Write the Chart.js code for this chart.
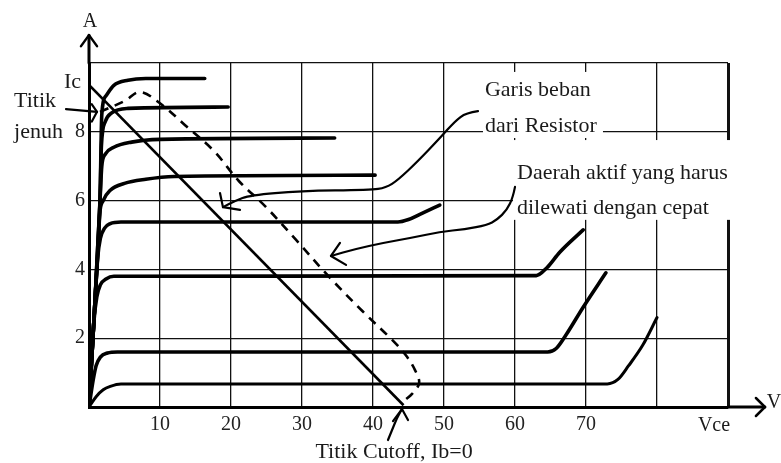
<!DOCTYPE html>
<html lang="id">
<head>
<meta charset="UTF-8">
<title>Kurva karakteristik transistor</title>
<script src="https://cdn.jsdelivr.net/npm/chart.js@4.4.0/dist/chart.umd.min.js"></script>
<style>
  body { margin: 0; background: #fff; }
  .wrap { width: 781px; height: 463px; position: relative; }
</style>
</head>
<body>
<div class="wrap"><canvas id="ic"></canvas></div>
<script>
// kurva Ic terhadap Vce, satu kurva tiap arus basis (x = Vce, y = Ic)
const ib1 = [[0,0],[1,0.3],[2,0.5],[3,0.6],[4.5,0.67],[73,0.67],[74.5,0.8],[76,1.2],[78,1.8],[80,2.6]];
const ib2 = [[0,0],[0.6,0.8],[1,1.2],[1.6,1.45],[2.6,1.57],[4,1.6],[64.6,1.6],[65.8,1.7],[67.2,2.1],[69.6,2.9],[72.8,3.9]];
const ib3 = [[0,0],[0.7,2.5],[1.1,3.2],[1.6,3.55],[2.4,3.72],[3.5,3.8],[63,3.82],[64.5,4.05],[66.3,4.5],[69.6,5.15]];
const ib4 = [[0,0],[0.85,3.1],[1.2,4.3],[1.6,4.9],[2.2,5.2],[3,5.33],[4.5,5.38],[43.5,5.38],[45,5.45],[46.6,5.6],[49.4,5.87]];
const ib5 = [[0,0],[0.85,3.1],[1.5,5.6],[2,6.0],[3,6.3],[5,6.5],[8,6.62],[12,6.7],[40.3,6.74]];
const ib6 = [[0,0],[0.85,3.1],[1.55,6.0],[1.8,7.0],[2.3,7.35],[3.5,7.55],[6,7.7],[10,7.78],[34.6,7.82]];
const ib7 = [[0,0],[0.85,3.1],[1.55,6.0],[1.75,7.6],[2.3,8.3],[3.2,8.55],[5.5,8.68],[19.6,8.72]];
const ib8 = [[0,0],[0.85,3.1],[1.55,6.0],[1.8,8.5],[2.4,9.05],[3.5,9.35],[5.5,9.5],[8,9.55],[16.3,9.55]];
const curves = [ib1, ib2, ib3, ib4, ib5, ib6, ib7, ib8];

// garis beban resistor, dari titik jenuh ke titik cutoff
const loadLine = [[0,9.36],[44.3,0.05]];

// daerah aktif (garis putus-putus)
const activeZone = [[1.55,8.58],[5.07,8.9],[7.18,9.16],[10,8.83],[13.5,8.2],[17.6,7.44],[21.1,6.57],[24.8,5.84],
  [29.2,4.85],[33.7,3.81],[38.5,2.79],[42.7,1.95],[44.6,1.51],[45.9,1.08],[46.5,0.7],[45.5,0.38],[44.5,0.2]];

const xTicks = [10, 20, 30, 40, 50, 60, 70];
const yTicks = [2, 4, 6, 8];

// panah keterangan (dalam satuan sumbu)
const arrows = [
  { path: [[54.79,8.6],[53.1,8.55],[51.55,8.31],[49.44,7.82],[46.2,7.12],[43.52,6.6],[41.83,6.37],[39.58,6.31],[29.72,6.28],[22.68,6.16],[20.56,5.99],[18.87,5.81]],
    head: [[18.45,6.22],[18.87,5.81],[21.27,5.73]] },
  { path: [[60,6.4],[59.72,6.1],[58.87,5.73],[57.46,5.44],[56.06,5.29],[52.96,5.17],[49.44,5.09],[45.21,4.91],[41.41,4.77],[37.46,4.59],[34.08,4.39]],
    head: [[35.35,4.77],[34.08,4.39],[36.2,4.13]] },
  { path: [[-3.24,8.66],[1.13,8.58]], head: [[0.4,8.8],[1.13,8.58],[0.4,8.3]] },
  { path: [[42.11,-0.96],[42.68,-0.67],[43.38,-0.32],[44.08,-0.06]], head: [[42.82,-0.41],[44.08,-0.06],[44.93,-0.38]] }
];

const notes = [
  { text: 'Garis beban', at: [55.77,9.22] },
  { text: 'dari Resistor', at: [55.77,8.17] },
  { text: 'Daerah aktif yang harus', at: [60.28,6.8] },
  { text: 'dilewati dengan cepat', at: [60.28,5.78] },
  { text: 'Titik', at: [-10.56,8.9] },
  { text: 'jenuh', at: [-10.56,7.99] },
  { text: 'Ic', at: [-3.52,9.45] },
  { text: 'Titik Cutoff, Ib=0', at: [42.96,-1.31], align: 'center' },
  { text: 'Vce', at: [88.03,-0.55], align: 'center', size: 20 },
  { text: 'A', at: [0.14,11.19], align: 'center', size: 20 },
  { text: 'V', at: [95.45,0.12], size: 20 }
];

// kotak putih di belakang teks (grid terputus di situ)
const blanks = [[[55.49,9.74],[72.39,7.82]], [[59.72,7.76],[92.39,5.44]]];

const FONT = 'Liberation Serif';

function toPx(chart, p) {
  return [chart.scales.x.getPixelForValue(p[0]), chart.scales.y.getPixelForValue(p[1])];
}
function smoothPath(ctx, chart, pts) {
  const q = pts.map(p => toPx(chart, p));
  ctx.beginPath();
  ctx.moveTo(q[0][0], q[0][1]);
  for (let i = 1; i < q.length - 1; i++) {
    const mx = (q[i][0] + q[i+1][0]) / 2, my = (q[i][1] + q[i+1][1]) / 2;
    ctx.quadraticCurveTo(q[i][0], q[i][1], mx, my);
  }
  ctx.lineTo(q[q.length-1][0], q[q.length-1][1]);
  ctx.stroke();
}
function poly(ctx, chart, pts) {
  ctx.beginPath();
  pts.forEach((p, i) => { const q = toPx(chart, p); i ? ctx.lineTo(q[0], q[1]) : ctx.moveTo(q[0], q[1]); });
  ctx.stroke();
}

const sketch = {
  id: 'sketch',
  beforeDatasetsDraw(chart) {
    const ctx = chart.ctx;
    ctx.save();
    ctx.fillStyle = '#fff';
    blanks.forEach(b => {
      const a = toPx(chart, b[0]), c = toPx(chart, b[1]);
      ctx.fillRect(a[0], a[1], c[0] - a[0], c[1] - a[1]);
    });
    ctx.restore();
  },
  afterDatasetsDraw(chart) {
    const ctx = chart.ctx;
    const xs = chart.scales.x, ys = chart.scales.y;
    ctx.save();
    ctx.strokeStyle = '#000';
    ctx.lineCap = 'round';
    ctx.lineJoin = 'round';

    // perpanjangan sumbu dengan panah
    ctx.lineWidth = 3;
    const o = toPx(chart, [0, 0]);
    const yEnd = toPx(chart, [0, 10.81]);
    const xEnd = toPx(chart, [95.2, 0]);
    ctx.beginPath();
    ctx.moveTo(o[0], ys.top); ctx.lineTo(yEnd[0], yEnd[1]);
    ctx.moveTo(xs.right, o[1]); ctx.lineTo(xEnd[0], xEnd[1]);
    ctx.stroke();
    ctx.lineWidth = 2.5;
    ctx.beginPath();
    ctx.moveTo(yEnd[0] - 8, yEnd[1] + 11); ctx.lineTo(yEnd[0], yEnd[1]); ctx.lineTo(yEnd[0] + 8, yEnd[1] + 11);
    ctx.moveTo(xEnd[0] - 9, xEnd[1] - 9); ctx.lineTo(xEnd[0], xEnd[1]); ctx.lineTo(xEnd[0] - 9, xEnd[1] + 9);
    ctx.stroke();

    // panah keterangan
    ctx.lineWidth = 2.2;
    arrows.forEach(a => {
      smoothPath(ctx, chart, a.path);
      poly(ctx, chart, a.head);
    });

    // teks
    ctx.fillStyle = '#1a1a1a';
    ctx.textBaseline = 'middle';
    notes.forEach(n => {
      const p = toPx(chart, n.at);
      ctx.font = (n.size || 22) + 'px "' + FONT + '"';
      ctx.textAlign = n.align || 'left';
      ctx.fillText(n.text, p[0], p[1]);
    });
    ctx.restore();
  }
};

const datasets = curves.map((c, i) => ({
  data: c.map(p => ({ x: p[0], y: p[1] })),
  showLine: true,
  borderColor: '#000',
  borderWidth: i === 0 ? 3 : 3.6,
  pointRadius: 0,
  cubicInterpolationMode: 'monotone',
  borderCapStyle: 'round',
  borderJoinStyle: 'round'
}));
datasets.push({
  data: loadLine.map(p => ({ x: p[0], y: p[1] })),
  showLine: true, borderColor: '#000', borderWidth: 2.6, pointRadius: 0
});
datasets.push({
  data: activeZone.map(p => ({ x: p[0], y: p[1] })),
  showLine: true, borderColor: '#000', borderWidth: 2.6, pointRadius: 0,
  borderDash: [9, 7], tension: 0.35
});

new Chart(document.getElementById('ic'), {
  type: 'scatter',
  data: { datasets: datasets },
  options: {
    responsive: true,
    maintainAspectRatio: false,
    animation: false,
    layout: { padding: { top: 63, right: 53, left: 0, bottom: 0 } },
    plugins: { legend: { display: false }, tooltip: { enabled: false } },
    scales: {
      x: {
        type: 'linear', min: 0, max: 90,
        afterFit: s => { s.height = 56; },
        afterBuildTicks: s => { s.ticks = [0,10,20,30,40,50,60,70,80,90].map(v => ({ value: v })); },
        ticks: {
          callback: v => xTicks.includes(v) ? String(v) : '',
          font: { family: FONT, size: 20 }, color: '#222', padding: 6, maxRotation: 0, autoSkip: false
        },
        grid: { color: '#111', lineWidth: c => c.tick && c.tick.value === 90 ? 3 : 1.3, drawTicks: false, tickLength: 0 },
        border: { display: true, color: '#000', width: 3 }
      },
      y: {
        type: 'linear', min: 0, max: 10,
        afterFit: s => { s.width = 89; },
        afterBuildTicks: s => { s.ticks = [0,2,4,6,8,10].map(v => ({ value: v })); },
        ticks: {
          callback: v => yTicks.includes(v) ? String(v) : '',
          font: { family: FONT, size: 20 }, color: '#222', padding: 4, autoSkip: false
        },
        grid: { color: '#111', lineWidth: 1.3, drawTicks: false, tickLength: 0 },
        border: { display: true, color: '#000', width: 3 }
      }
    }
  },
  plugins: [sketch]
});
</script>
</body>
</html>
